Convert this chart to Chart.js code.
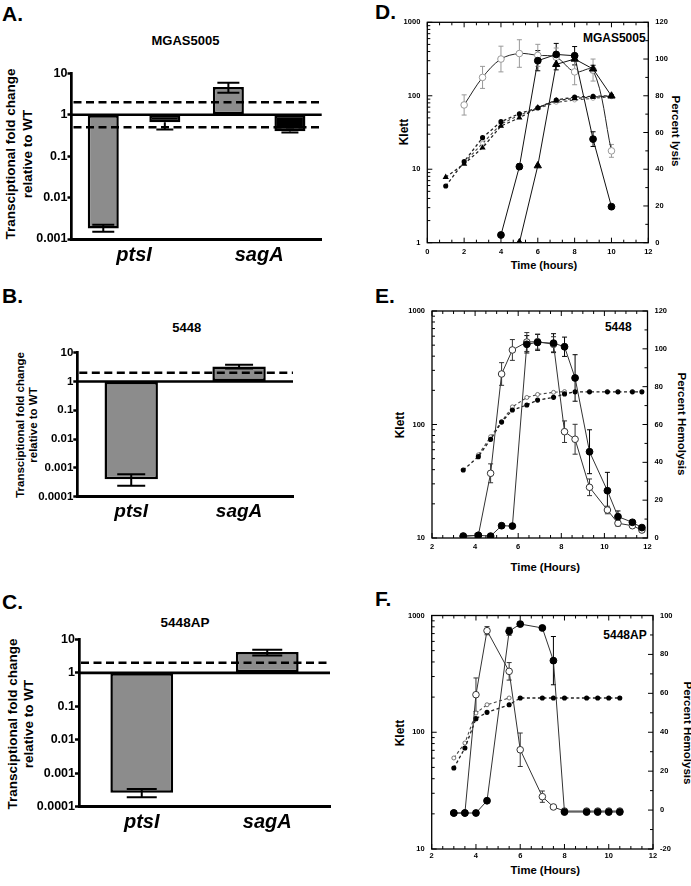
<!DOCTYPE html>
<html><head><meta charset="utf-8">
<script src="https://cdn.jsdelivr.net/npm/chart.js@4.4.1/dist/chart.umd.min.js"></script>
<style>
body{margin:0;background:#fff;width:691px;height:886px;position:relative;overflow:hidden;font-family:"Liberation Sans",Arial,sans-serif;}
canvas{position:absolute;}
.t{position:absolute;font-weight:bold;line-height:1;white-space:nowrap;color:#000;}
.c{transform:translate(-50%,-50%);}
.L{transform:translate(0,-50%);}
.rl{transform:translate(-50%,-50%) rotate(-90deg);text-align:center;}
.rr{transform:translate(-50%,-50%) rotate(90deg);text-align:center;}
</style></head><body>
<div class="t L" style="left:2px;top:13.3px;font-size:21px">A.</div>
<div class="t c" style="left:185.5px;top:39.7px;font-size:13px">MGAS5005</div>
<div class="t rl" style="left:18.5px;top:153.5px;font-size:13.5px;line-height:17px">Transciptional fold change<br>relative to WT</div>

<div class="t L" style="left:2px;top:295.3px;font-size:21px">B.</div>
<div class="t c" style="left:186.7px;top:326.7px;font-size:13px">5448</div>
<div class="t rl" style="left:26.5px;top:425px;font-size:11.5px;line-height:13px">Transciptional fold change<br>relative to WT</div>

<div class="t L" style="left:2px;top:601px;font-size:21px">C.</div>
<div class="t c" style="left:185px;top:623px;font-size:13.5px">5448AP</div>
<div class="t rl" style="left:21px;top:724px;font-size:13.5px;line-height:16px">Transciptional fold change<br>relative to WT</div>

<div class="t L" style="left:375px;top:10.7px;font-size:21px">D.</div>
<div class="t c" style="left:614.3px;top:38px;font-size:12px">MGAS5005</div>
<div class="t rl" style="left:404px;top:132px;font-size:12px">Klett</div>
<div class="t rr" style="left:675px;top:131px;font-size:11.5px">Percent lysis</div>
<div class="t c" style="left:544px;top:264.5px;font-size:11px">Time (hours)</div>

<div class="t L" style="left:375px;top:295.3px;font-size:21px">E.</div>
<div class="t c" style="left:618.3px;top:327px;font-size:12px">5448</div>
<div class="t rl" style="left:400px;top:424.5px;font-size:12px">Klett</div>
<div class="t rr" style="left:681px;top:424px;font-size:11.5px">Percent Hemolysis</div>
<div class="t c" style="left:545.3px;top:567.5px;font-size:11.3px">Time (Hours)</div>

<div class="t L" style="left:375px;top:598.3px;font-size:21px">F.</div>
<div class="t c" style="left:625px;top:634.7px;font-size:12px">5448AP</div>
<div class="t rl" style="left:400px;top:732.5px;font-size:12px">Klett</div>
<div class="t rr" style="left:687px;top:733px;font-size:11.5px">Percent Hemolysis</div>
<div class="t c" style="left:545.3px;top:871px;font-size:11.3px">Time (Hours)</div>

<script>
// ---------- Bar panels (A, B, C) ----------
const barCats = ['ptsI', 'sagA'];
// A: MGAS5005
const aGray = [0.0018, 4.7];
const aGrayLo = [0.0015, 3.4];
const aGrayHi = [0.0022, 5.9];
const aBlack = [0.66, 0.40];
const aBlackLo = [0.44, 0.37];
const aBlackHi = [0.66, 0.40];
const aRefs = [2, 0.5];
const aTicks = [0.001, 0.01, 0.1, 1, 10];
// B: 5448
const bGray = [0.0004, 3.3];
const bGrayLo = [0.00024, 2.8];
const bGrayHi = [0.0006, 3.8];
const bRefs = [2];
const bTicks = [0.0001, 0.001, 0.01, 0.1, 1, 10];
// C: 5448AP
const cGray = [0.00026, 4.2];
const cGrayLo = [0.00019, 3.3];
const cGrayHi = [0.00034, 4.9];
const cRefs = [2];
const cTicks = [0.0001, 0.001, 0.01, 0.1, 1, 10];

// ---------- Line panels (D, E, F) ----------
// D: MGAS5005
const dGrowthHours = [1, 2, 3, 4, 5, 6, 7, 8, 9, 10];
const dGrowthCircle = [5.9, 12.7, 26.9, 44.4, 57.0, 68.8, 87.5, 96.2, 98.2, 100];
const dGrowthTri = [7.8, 11.8, 19.6, 38.7, 50.2, 68.8, 86, 92, 96, 99];
const dGrowthOpenHours = [2, 3, 4, 5, 6, 7, 8, 9, 10];
const dGrowthOpen = [12.3, 22.5, 41.2, 54.7, 66.8, 81.3, 87.5, 92, 97];
const dLysisOpenHours = [2, 3, 4, 5, 6, 7, 8, 9, 10];
const dLysisOpen = [75, 90, 100, 103, 102, 101, 93, 94, 50];
const dLysisOpenErr = [5.5, 6, 7, 7.5, 6, 5, 7, 6, 3.5];
const dLysisCircleHours = [4, 5, 6, 7, 8, 9, 10];
const dLysisCircle = [4.2, 41.4, 99.1, 102.5, 101.8, 56.4, 19.6];
const dLysisCircleErr = [0, 1.5, 5.5, 6, 5, 4, 0];
const dLysisTriHours = [5, 6, 7, 8, 9, 10];
const dLysisTri = [0, 41.9, 97.1, 100, 94.6, 79.9];
const dLysisTriErr = [0, 0, 3, 0, 2, 0];
const dLeftTicks = [1, 10, 100, 1000];
// E: 5448
const eHours = [3.45, 4.15, 4.72, 5.23, 5.73, 6.4, 6.9, 7.64, 8.15, 8.64, 9.31, 10.14, 10.63, 11.3, 11.74];
const eLysisOpen = [1.1, 1.4, 34.2, 86.7, 99.4, 103.6, 103.8, 102.4, 56.2, 52.2, 26.8, 14.8, 7.8, 6.5, 4.2];
const eLysisOpenErr = [0, 1, 5, 6, 5.5, 5, 4, 4, 5.7, 7.9, 4.4, 2, 1.5, 1, 1];
const eLysisFilled = [0.9, 1.4, 1.0, 6.5, 6.3, 102.4, 103.4, 103, 101.1, 84.6, 45.6, 25.0, 11.3, 8.3, 5.5];
const eLysisFilledErr = [0, 0, 0, 0, 0, 4.6, 4.2, 5, 5.1, 12.3, 11.6, 9.7, 3, 1, 1];
const eGrowthFilled = [39.7, 52.1, 74, 105, 134, 148.6, 164, 173.5, 186, 194, 194, 194, 194, 194, 194];
const eGrowthOpenHours = [4.15, 4.72, 5.23, 5.73, 6.4, 6.9, 7.64, 8.15];
const eGrowthOpen = [54, 78, 106, 143, 173, 184, 192, 195];
const eLeftTicks = [10, 100, 1000];
// F: 5448AP
const fHours = [3, 3.5, 4, 4.5, 5.5, 6, 7, 7.5, 8, 9, 9.5, 10, 10.5];
const fLysisOpen = [-1.5, -1.5, 59.3, 92.2, 71.3, 31.0, 6.9, 1.6, -0.5, -0.5, -0.5, -0.5, -0.5];
const fLysisOpenErr = [0, 0, 8.6, 2.1, 4.5, 8.6, 2.9, 1, 0, 0, 0, 0, 0];
const fLysisFilled = [-1.5, -1.5, -1.5, 4.8, 91.9, 95.6, 93.6, 76.8, -1.0, -1.0, -1.0, -1.0, -1.0];
const fLysisFilledErr = [0, 0, 0, 0, 2, 1, 0, 12.4, 0, 0, 0, 0, 0];
const fGrowthFilled = [49.4, 73.3, 130.7, 148, 172, 196.5, 196.5, 196.5, 196.5, 196.5, 196.5, 196.5, 196.5];
const fGrowthOpenHours = [3, 3.5, 4, 4.5, 5.5];
const fGrowthOpen = [60.2, 80.9, 146, 172, 196.5];
const fLeftTicks = [10, 100, 1000];

// ---------- helpers ----------
const FONT = '"Liberation Sans", Arial, sans-serif';
Chart.defaults.font.family = FONT;
Chart.defaults.color = '#000';

function fit(size, horiz) {
  return s => {
    if (horiz) s.height = size; else s.width = size;
    s.paddingTop = 0; s.paddingBottom = 0; s.paddingLeft = 0; s.paddingRight = 0;
  };
}
function makeCanvas(r) {
  const c = document.createElement('canvas');
  c.width = r.w; c.height = r.h;
  c.style.left = r.x + 'px'; c.style.top = r.y + 'px';
  c.style.width = r.w + 'px'; c.style.height = r.h + 'px';
  document.body.appendChild(c);
  return c;
}

function barDecor(refs) {
  return {
    id: 'barDecor',
    afterDatasetsDraw(chart) {
      const ctx = chart.ctx, y = chart.scales.y, a = chart.chartArea;
      ctx.save();
      ctx.strokeStyle = '#000';
      chart.data.datasets.forEach((ds, di) => {
        const meta = chart.getDatasetMeta(di);
        meta.data.forEach((bar, i) => {
          const x = bar.x, y1 = y.getPixelForValue(ds.errLo[i]), y2 = y.getPixelForValue(ds.errHi[i]), w = ds.capWidth / 2;
          ctx.lineWidth = 2; ctx.setLineDash([]);
          ctx.beginPath();
          ctx.moveTo(x, y1); ctx.lineTo(x, y2);
          ctx.moveTo(x - w, y1); ctx.lineTo(x + w, y1);
          if (ds.errHi[i] !== ds.data[i]) { ctx.moveTo(x - w, y2); ctx.lineTo(x + w, y2); }
          ctx.stroke();
        });
      });
      const p1 = y.getPixelForValue(1);
      ctx.lineWidth = 2.7; ctx.setLineDash([]);
      ctx.beginPath(); ctx.moveTo(a.left, p1); ctx.lineTo(a.right, p1); ctx.stroke();
      ctx.lineWidth = 2.5; ctx.setLineDash([8, 4.5]);
      refs.forEach(v => {
        const p = y.getPixelForValue(v);
        ctx.beginPath(); ctx.moveTo(a.left + 2, p); ctx.lineTo(a.right, p); ctx.stroke();
      });
      ctx.restore();
    }
  };
}

function barChart(rect, plot, datasets, ticks, refs, o) {
  const c = makeCanvas(rect);
  new Chart(c, {
    type: 'bar',
    data: { labels: barCats, datasets: datasets },
    options: {
      responsive: false, animation: false, events: [],
      layout: { padding: { left: 0, top: plot.t - rect.y, right: rect.x + rect.w - plot.r, bottom: 0 } },
      plugins: { legend: { display: false }, tooltip: { enabled: false } },
      scales: {
        x: {
          type: 'category', offset: true,
          grid: { display: false, drawTicks: false },
          border: { display: true, color: '#000', width: 3 },
          ticks: { font: { family: FONT, size: o.xFont, weight: 'bold', style: 'italic' }, color: '#000', padding: o.xPad },
          afterFit: fit(rect.y + rect.h - plot.b, true)
        },
        y: {
          type: 'logarithmic', min: ticks[0], max: ticks[ticks.length - 1],
          afterBuildTicks: s => { s.ticks = ticks.map(v => ({ value: v })); },
          ticks: { callback: v => String(v), font: { family: FONT, size: o.yFont, weight: 'bold' }, color: '#000', padding: 0 },
          grid: { display: true, drawOnChartArea: false, drawTicks: true, tickLength: 4, tickWidth: 2.5, tickColor: '#000', color: '#000' },
          border: { display: true, color: '#000', width: 2.7 },
          afterFit: fit(plot.l - rect.x, false)
        }
      }
    },
    plugins: [barDecor(refs)]
  });
}

function isMult(v, step) { const q = v / step; return Math.abs(q - Math.round(q)) < 1e-6; }

function frameTicks(cfg) {
  return {
    id: 'frameTicks',
    beforeDatasetsDraw(chart) {
      const { ctx, chartArea: a, scales: { x, yL, yR } } = chart;
      ctx.save();
      ctx.strokeStyle = '#000';
      ctx.lineWidth = 1.3;
      ctx.strokeRect(a.left, a.top, a.right - a.left, a.bottom - a.top);
      ctx.lineWidth = 1;
      ctx.beginPath();
      cfg.xMinor.forEach(v => {
        const p = x.getPixelForValue(v), L = isMult(v, cfg.xStep) ? 5 : 3;
        ctx.moveTo(p, a.bottom); ctx.lineTo(p, a.bottom - L);
        ctx.moveTo(p, a.top); ctx.lineTo(p, a.top + L);
      });
      cfg.lMinor.forEach(v => {
        const p = yL.getPixelForValue(v), L = cfg.lTicks.includes(v) ? 5 : 3;
        ctx.moveTo(a.left, p); ctx.lineTo(a.left + L, p);
      });
      cfg.rMinor.forEach(v => {
        const p = yR.getPixelForValue(v), L = isMult(v, cfg.rStep) ? 5 : 3;
        ctx.moveTo(a.right, p); ctx.lineTo(a.right - L, p);
      });
      ctx.stroke();
      ctx.restore();
    }
  };
}

const errPlugin = {
  id: 'errBars',
  beforeDatasetsDraw(chart) {
    const ctx = chart.ctx;
    chart.data.datasets.forEach((ds, di) => {
      if (!ds.err) return;
      const meta = chart.getDatasetMeta(di), sc = chart.scales[ds.yAxisID];
      ctx.save(); ctx.strokeStyle = ds.errColor || '#000'; ctx.lineWidth = 1;
      ds.data.forEach((pt, i) => {
        const e = ds.err[i]; if (!e) return;
        const x = meta.data[i].x, y1 = sc.getPixelForValue(pt.y - e), y2 = sc.getPixelForValue(pt.y + e);
        ctx.beginPath();
        ctx.moveTo(x, y1); ctx.lineTo(x, y2);
        ctx.moveTo(x - 2.5, y1); ctx.lineTo(x + 2.5, y1);
        ctx.moveTo(x - 2.5, y2); ctx.lineTo(x + 2.5, y2);
        ctx.stroke();
      });
      ctx.restore();
    });
  }
};

function lineChart(rect, plot, cfg) {
  const c = makeCanvas(rect);
  const tickFont = { family: FONT, size: 7.5, weight: 'bold' };
  cfg.xMinor = []; for (let v = cfg.xMin; v <= cfg.xMax + 1e-9; v += cfg.xMinorStep) cfg.xMinor.push(v);
  cfg.rMinor = []; for (let v = cfg.rMin; v <= cfg.rMax + 1e-9; v += cfg.rMinorStep) cfg.rMinor.push(v);
  cfg.lMinor = [];
  for (let d = cfg.lTicks[0]; d < cfg.lTicks[cfg.lTicks.length - 1]; d *= 10) for (let k = 1; k < 10; k++) cfg.lMinor.push(d * k);
  cfg.lMinor.push(cfg.lTicks[cfg.lTicks.length - 1]);
  new Chart(c, {
    type: 'scatter',
    data: { datasets: cfg.datasets },
    options: {
      responsive: false, animation: false, events: [],
      layout: { padding: { left: 0, right: 0, top: plot.t - rect.y, bottom: 0 } },
      plugins: { legend: { display: false }, tooltip: { enabled: false } },
      scales: {
        x: { type: 'linear', position: 'bottom', min: cfg.xMin, max: cfg.xMax,
          ticks: { stepSize: cfg.xStep, font: tickFont, color: '#000', padding: cfg.xPad },
          grid: { display: false, drawTicks: false }, border: { display: false },
          afterFit: fit(rect.y + rect.h - plot.b, true) },
        yL: { type: 'logarithmic', position: 'left', min: cfg.lTicks[0], max: cfg.lTicks[cfg.lTicks.length - 1],
          afterBuildTicks: s => { s.ticks = cfg.lTicks.map(v => ({ value: v })); },
          ticks: { callback: v => String(v), font: tickFont, color: '#000', padding: 7 },
          grid: { display: false, drawTicks: false }, border: { display: false },
          afterFit: fit(plot.l - rect.x, false) },
        yR: { type: 'linear', position: 'right', min: cfg.rMin, max: cfg.rMax,
          ticks: { stepSize: cfg.rStep, font: tickFont, color: '#000', padding: 7 },
          grid: { display: false, drawTicks: false }, border: { display: false },
          afterFit: fit(rect.x + rect.w - plot.r, false) }
      }
    },
    plugins: [frameTicks(cfg), errPlugin]
  });
}

function ser(hours, vals, o) {
  return Object.assign({ data: hours.map((h, i) => ({ x: h, y: vals[i] })), showLine: true, tension: 0 }, o);
}
const lysisFilled = { yAxisID: 'yR', borderColor: '#333', borderWidth: 1, pointRadius: 3.4, pointBackgroundColor: '#000', pointBorderColor: '#000', pointBorderWidth: 1 };
const lysisOpen = { yAxisID: 'yR', borderColor: '#333', borderWidth: 1, pointRadius: 3.3, pointBackgroundColor: '#fff', pointBorderColor: '#333', pointBorderWidth: 1 };
const growthFilled = { yAxisID: 'yL', borderColor: '#222', borderWidth: 1.3, borderDash: [3, 2.5], pointRadius: 1.9, pointBackgroundColor: '#000', pointBorderColor: '#000' };
const growthOpen = { yAxisID: 'yL', borderColor: '#444', borderWidth: 1.1, borderDash: [3, 2.5], pointRadius: 2, pointBackgroundColor: '#fff', pointBorderColor: '#555', pointBorderWidth: 0.8 };

// ---------- build ----------
barChart({ x: 0, y: 55, w: 345, h: 230 }, { l: 71.5, t: 73.3, r: 321.7, b: 239 }, [
  { data: aGray, base: 1, backgroundColor: '#8c8c8c', borderColor: '#000', borderWidth: 2.5, borderSkipped: false, barPercentage: 0.504, categoryPercentage: 0.984, errLo: aGrayLo, errHi: aGrayHi, capWidth: 22 },
  { data: aBlack, base: 1, backgroundColor: '#000', borderColor: '#000', borderWidth: 2.5, borderSkipped: false, barPercentage: 0.504, categoryPercentage: 0.984, errLo: aBlackLo, errHi: aBlackHi, capWidth: 17 }
], aTicks, aRefs, { xFont: 20, xPad: 4, yFont: 12.5 });

barChart({ x: 0, y: 340, w: 345, h: 200 }, { l: 77.3, t: 352.7, r: 293, b: 496.7 }, [
  { data: bGray, base: 1, backgroundColor: '#8c8c8c', borderColor: '#000', borderWidth: 2.5, borderSkipped: false, barPercentage: 0.5, categoryPercentage: 0.99, errLo: bGrayLo, errHi: bGrayHi, capWidth: 28 }
], bTicks, bRefs, { xFont: 19, xPad: 4, yFont: 11.5 });

barChart({ x: 0, y: 628, w: 345, h: 250 }, { l: 79, t: 639.3, r: 330, b: 806.7 }, [
  { data: cGray, base: 1, backgroundColor: '#8c8c8c', borderColor: '#000', borderWidth: 2.5, borderSkipped: false, barPercentage: 0.505, categoryPercentage: 0.99, errLo: cGrayLo, errHi: cGrayHi, capWidth: 30 }
], cTicks, cRefs, { xFont: 20, xPad: 4, yFont: 12.5 });

lineChart({ x: 345, y: 5, w: 346, h: 272 }, { l: 427.3, t: 22.3, r: 648.3, b: 242.7 }, {
  xMin: 0, xMax: 12, xStep: 2, xMinorStep: 2 / 3, xPad: 4.5,
  lTicks: dLeftTicks, rMin: 0, rMax: 120, rStep: 20, rMinorStep: 10,
  datasets: [
    ser(dLysisCircleHours, dLysisCircle, Object.assign({}, lysisFilled, { borderColor: '#111', err: dLysisCircleErr })),
    ser(dLysisTriHours, dLysisTri, Object.assign({}, lysisFilled, { borderColor: '#111', pointStyle: 'triangle', pointRadius: 4.2, err: dLysisTriErr })),
    ser(dLysisOpenHours, dLysisOpen, Object.assign({}, lysisOpen, { borderColor: '#222', pointBorderColor: '#999', tension: 0.35, err: dLysisOpenErr, errColor: '#999' })),
    ser(dGrowthHours, dGrowthCircle, growthFilled),
    ser(dGrowthHours, dGrowthTri, Object.assign({}, growthFilled, { pointStyle: 'triangle', pointRadius: 2.3 })),
    ser(dGrowthOpenHours, dGrowthOpen, Object.assign({}, growthOpen, { pointBorderColor: '#999' }))
  ]
});

lineChart({ x: 345, y: 295, w: 346, h: 262 }, { l: 432, t: 311, r: 647.5, b: 538 }, {
  xMin: 2, xMax: 12, xStep: 2, xMinorStep: 0.5, xPad: 4.2,
  lTicks: eLeftTicks, rMin: 0, rMax: 120, rStep: 20, rMinorStep: 10,
  datasets: [
    ser(eHours, eLysisFilled, Object.assign({}, lysisFilled, { err: eLysisFilledErr })),
    ser(eHours, eLysisOpen, Object.assign({}, lysisOpen, { err: eLysisOpenErr, errColor: '#333' })),
    ser(eHours, eGrowthFilled, growthFilled),
    ser(eGrowthOpenHours, eGrowthOpen, growthOpen)
  ]
});

lineChart({ x: 345, y: 600, w: 346, h: 262 }, { l: 431.7, t: 615.5, r: 653, b: 849 }, {
  xMin: 2, xMax: 12, xStep: 2, xMinorStep: 0.5, xPad: 2.5,
  lTicks: fLeftTicks, rMin: -20, rMax: 100, rStep: 20, rMinorStep: 10,
  datasets: [
    ser(fHours, fLysisFilled, Object.assign({}, lysisFilled, { err: fLysisFilledErr })),
    ser(fHours, fLysisOpen, Object.assign({}, lysisOpen, { err: fLysisOpenErr, errColor: '#333' })),
    ser(fHours, fGrowthFilled, growthFilled),
    ser(fGrowthOpenHours, fGrowthOpen, growthOpen)
  ]
});
</script>
</body></html>
